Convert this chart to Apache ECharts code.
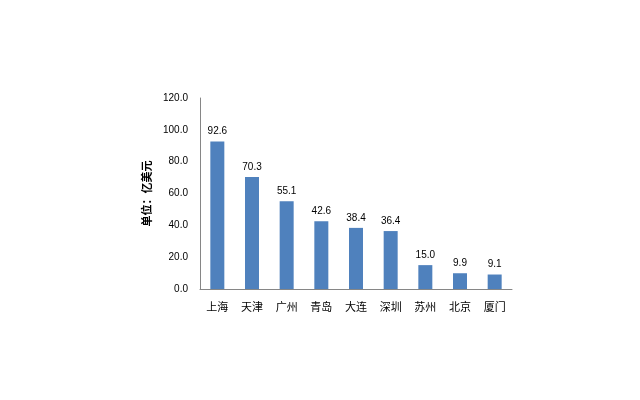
<!DOCTYPE html>
<html><head><meta charset="utf-8">
<script src="https://cdn.jsdelivr.net/npm/echarts@6/dist/echarts.min.js"></script>
<style>html,body{margin:0;padding:0;background:#fff}#c{width:640px;height:400px}</style>
</head><body><div id="c"></div>
<script>
const categories = ['上海','天津','广州','青岛','大连','深圳','苏州','北京','厦门'];
const values = [92.6, 70.3, 55.1, 42.6, 38.4, 36.4, 15.0, 9.9, 9.1];
const yAxisName = '单位：亿美元';
const yMin = 0, yMax = 120, yStep = 20;

const chart = echarts.init(document.getElementById('c'), null, {renderer:'canvas'});
chart.setOption({
  animation: false,
  backgroundColor: '#fff',
  grid: {left: 200, right: 128, top: 98, bottom: 111},
  xAxis: {
    type: 'category', data: categories,
    axisLine: {lineStyle: {color: '#868686'}},
    axisTick: {show: false},
    axisLabel: {color: '#000', fontSize: 11, margin: 12, fontFamily: 'Noto Sans CJK SC'}
  },
  yAxis: {
    type: 'value', min: yMin, max: yMax, interval: yStep,
    name: yAxisName, nameLocation: 'middle', nameGap: 48, nameRotate: 90,
    nameTextStyle: {color: '#000', fontSize: 11, fontWeight: 'bold', fontFamily: 'Noto Sans CJK SC'},
    axisLine: {show: true, lineStyle: {color: '#868686'}},
    axisTick: {show: false},
    splitLine: {show: false},
    axisLabel: {color: '#000', fontSize: 10, margin: 12, fontFamily: 'Liberation Sans', formatter: v => v.toFixed(1)}
  },
  series: [{
    type: 'bar', data: values, barWidth: 14,
    itemStyle: {color: '#4F81BD'},
    label: {show: true, position: 'top', distance: 5, color: '#000', fontSize: 10, fontFamily: 'Liberation Sans', formatter: p => p.value.toFixed(1)}
  }]
});
</script></body></html>
